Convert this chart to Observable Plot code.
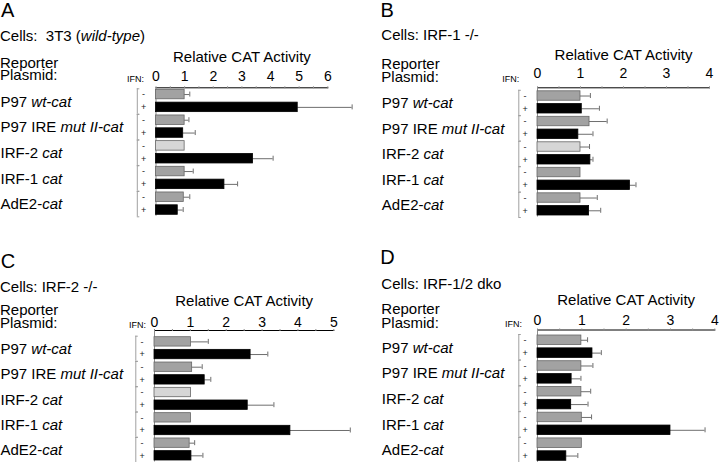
<!DOCTYPE html>
<html><head><meta charset="utf-8">
<script src="https://cdn.jsdelivr.net/npm/d3@7"></script>
<script src="https://cdn.jsdelivr.net/npm/@observablehq/plot@0.6"></script>
<style>
body{margin:0;background:#fff;}
#fig{position:relative;width:720px;height:462px;overflow:hidden;background:#fff;}
#fig svg{position:absolute;overflow:visible;}
</style></head><body><div id="fig"></div>
<script>
// ---- data ----
const plasmids = ["P97 wt-cat", "P97 IRE mut II-cat", "IRF-2 cat", "IRF-1 cat", "AdE2-cat"];
const plasmidItalic = ["wt-cat", "mut II-cat", "cat", "cat", "cat"];
const signs = ["-", "+"];
const panelLetters = ["A", "B", "C", "D"];
const cellLines = ["Cells:  3T3 (wild-type)", "Cells: IRF-1 -/-", "Cells: IRF-2 -/-", "Cells: IRF-1/2 dko"];
const cellItalic = ["wild-type", null, null, null];
const axisTitle = "Relative CAT Activity";
const axisMax = [6, 4, 5, 4];
const lightGrayRow = [2, 2, 2, -1];

const minusA = [1.00, 1.00, 1.00, 1.00, 0.97];
const minusErrA = [0.18, 0.15, 0, 0.30, 0.21];
const plusA = [4.95, 0.95, 3.39, 2.39, 0.76];
const plusErrA = [1.90, 0.42, 0.70, 0.46, 0.19];

const minusB = [1.00, 1.21, 1.00, 1.00, 1.00];
const minusErrB = [0.23, 0.41, 0.21, 0, 0.39];
const plusB = [1.03, 0.95, 1.23, 2.15, 1.20];
const plusErrB = [0.41, 0.34, 0.06, 0.14, 0.27];

const minusC = [1.02, 1.05, 1.02, 1.02, 0.98];
const minusErrC = [0.48, 0.28, 0, 0, 0.14];
const plusC = [2.68, 1.40, 2.60, 3.79, 1.03];
const plusErrC = [0.48, 0.17, 0.73, 1.67, 0.32];

const minusD = [0.99, 0.99, 0.99, 1.00, 1.00];
const minusErrD = [0.14, 0.26, 0.21, 0.22, 0];
const plusD = [1.24, 0.77, 0.76, 3.00, 0.65];
const plusErrD = [0.20, 0.21, 0.38, 0.78, 0.26];

const series = [
  {minus: minusA, minusErr: minusErrA, plus: plusA, plusErr: plusErrA},
  {minus: minusB, minusErr: minusErrB, plus: plusB, plusErr: plusErrB},
  {minus: minusC, minusErr: minusErrC, plus: plusC, plusErr: plusErrC},
  {minus: minusD, minusErr: minusErrD, plus: plusD, plusErr: plusErrD}
];

// ---- layout (pixels, per panel) ----
const layout = [
  {left: 0, top: 0, x0: 155.5, x1: 327.3, axisY: 87.3, barsTop: 89.3, barsBottom: 214.3, tickBase: 80, titleBase: 61.7,
   labelX: 0, letterX: 1, letterY: 16.7, cellsY: 41.4, repY: 67.7, plasY: 80, ifnX: 127, ifnY: 82.3},
  {left: 360, top: 0, x0: 177, x1: 349, axisY: 87.3, barsTop: 90.8, barsBottom: 215, tickBase: 77, titleBase: 59.5,
   labelX: 21.3, letterX: 20.5, letterY: 16.7, cellsY: 40.3, repY: 69.3, plasY: 81.7, ifnX: 142.3, ifnY: 81.7},
  {left: 0, top: 231, x0: 154, x1: 333.3, axisY: 99, barsTop: 105.7, barsBottom: 229, tickBase: 95, titleBase: 74.7,
   labelX: 0, letterX: 0.8, letterY: 36.7, cellsY: 60.7, repY: 84, plasY: 96.7, ifnX: 129, ifnY: 97},
  {left: 360, top: 231, x0: 177, x1: 354.3, axisY: 98.5, barsTop: 104, barsBottom: 229.3, tickBase: 93.3, titleBase: 73.3,
   labelX: 21.3, letterX: 20.3, letterY: 33.3, cellsY: 58.3, repY: 83, plasY: 96.7, ifnX: 145, ifnY: 96}
];

const FONT = "'Liberation Sans', Arial, Helvetica, sans-serif";
const shadeColor = {light: "#d6d6d6", gray: "#a2a2a2", black: "#000000"};
const fig = document.getElementById("fig");

series.forEach((p, i) => {
  const L = layout[i];
  const rows = [];
  plasmids.forEach((name, g) => {
    rows.push({key: g + signs[0], sign: signs[0], value: p.minus[g], err: p.minusErr[g], shade: g === lightGrayRow[i] ? "light" : "gray"});
    rows.push({key: g + signs[1], sign: signs[1], value: p.plus[g], err: p.plusErr[g], shade: "black"});
  });
  const groups = plasmids.map((name, g) => ({name, minusKey: g + signs[0], plusKey: g + signs[1]}));
  const errRows = rows.filter(d => d.err > 0);
  const padIn = 0.26;
  const step = (L.barsBottom - L.barsTop) / (rows.length - padIn);
  const bw = step * (1 - padIn);
  const W = 360, H = 231;
  const bdx = -18.7;

  const svg = Plot.plot({
    width: W, height: H,
    marginLeft: L.x0, marginRight: W - L.x1, marginTop: L.axisY, marginBottom: H - L.barsBottom - 1.5,
    style: {fontFamily: FONT, fontSize: "14px", color: "black", background: "transparent", overflow: "visible"},
    x: {domain: [0, axisMax[i]], axis: "top", ticks: d3.range(0, axisMax[i] + 0.01, 0.5),
        tickFormat: d => Number.isInteger(d) ? String(d) : "", tickSize: 2,
        tickPadding: L.axisY - L.tickBase - 2, line: true, label: null},
    y: {domain: rows.map(d => d.key), axis: null, paddingInner: padIn, paddingOuter: 0, round: false,
        insetTop: L.barsTop - L.axisY, insetBottom: 1.5},
    marks: [
      Plot.ruleX([0], {stroke: "#8c8c8c", strokeWidth: 1}),
      Plot.ruleX(groups, {x: () => 0, y1: "minusKey", y2: "plusKey", dx: bdx, insetTop: -1, insetBottom: -2, stroke: "#a0a0a0"}),
      Plot.ruleY(groups, {y: "minusKey", x1: () => 0, x2: () => 0, dx: bdx, dy: -bw / 2 - 1, insetRight: -2.5, stroke: "#a0a0a0"}),
      Plot.ruleY(groups, {y: "plusKey", x1: () => 0, x2: () => 0, dx: bdx, dy: bw / 2 + 2, insetRight: -2.5, stroke: "#a0a0a0"}),
      Plot.ruleY(errRows, {y: "key", x1: "value", x2: d => d.value + d.err, stroke: "#6e6e6e", strokeWidth: 1}),
      Plot.tickX(errRows, {y: "key", x: d => d.value + d.err, insetTop: (bw - 5) / 2, insetBottom: (bw - 5) / 2, stroke: "#6e6e6e"}),
      Plot.barX(rows, {y: "key", x1: () => 0, x2: "value", fill: d => shadeColor[d.shade],
        stroke: d => d.shade === "black" ? "#000" : "#666", strokeWidth: 0.8}),
      Plot.text(rows, {y: "key", x: () => 0, text: "sign", dx: -12.5, fontSize: 9, fill: "#222"}),
      Plot.text(groups, {frameAnchor: "left", y: "minusKey", text: "name", dx: L.labelX - L.x0, dy: step / 2 + 1,
        textAnchor: "start", lineAnchor: "middle", fontSize: 15}),
      Plot.text([axisTitle], {frameAnchor: "top", text: d => d, dy: L.titleBase - L.axisY, lineAnchor: "bottom", fontSize: 15})
    ]
  });

  // italic parts of plasmid names
  d3.select(svg).selectAll("text").each(function() {
    const t = this.textContent;
    const g = plasmids.indexOf(t);
    if (g >= 0) {
      const it = plasmidItalic[g];
      const plain = t.slice(0, t.length - it.length);
      this.textContent = "";
      d3.select(this).append("tspan").text(plain);
      d3.select(this).append("tspan").attr("font-style", "italic").text(it);
    }
  });
  // axis line/ticks gray
  d3.select(svg).selectAll('g[aria-label^="x-axis"] line, g[aria-label^="x-axis"] path')
    .attr("stroke", "#8c8c8c");

  // static headings
  const s = d3.select(svg);
  const txt = (x, y, size, str) => s.append("text").attr("x", x).attr("y", y).attr("text-anchor", "start")
    .attr("font-family", FONT).attr("font-size", size).attr("fill", "black").text(str);
  txt(L.letterX, L.letterY, 20, panelLetters[i]);
  const c = s.append("text").attr("x", L.labelX).attr("y", L.cellsY).attr("text-anchor", "start")
    .attr("font-family", FONT).attr("font-size", 15).attr("fill", "black").style("white-space", "pre");
  if (cellItalic[i]) {
    const [a, b] = cellLines[i].split(cellItalic[i]);
    c.append("tspan").text(a);
    c.append("tspan").attr("font-style", "italic").text(cellItalic[i]);
    c.append("tspan").text(b);
  } else {
    c.text(cellLines[i]);
  }
  txt(L.labelX, L.repY, 15, "Reporter");
  txt(L.labelX, L.plasY, 15, "Plasmid:");
  txt(L.ifnX, L.ifnY, 9, "IFN:");

  svg.style.left = L.left + "px";
  svg.style.top = L.top + "px";
  fig.appendChild(svg);
});
</script></body></html>
